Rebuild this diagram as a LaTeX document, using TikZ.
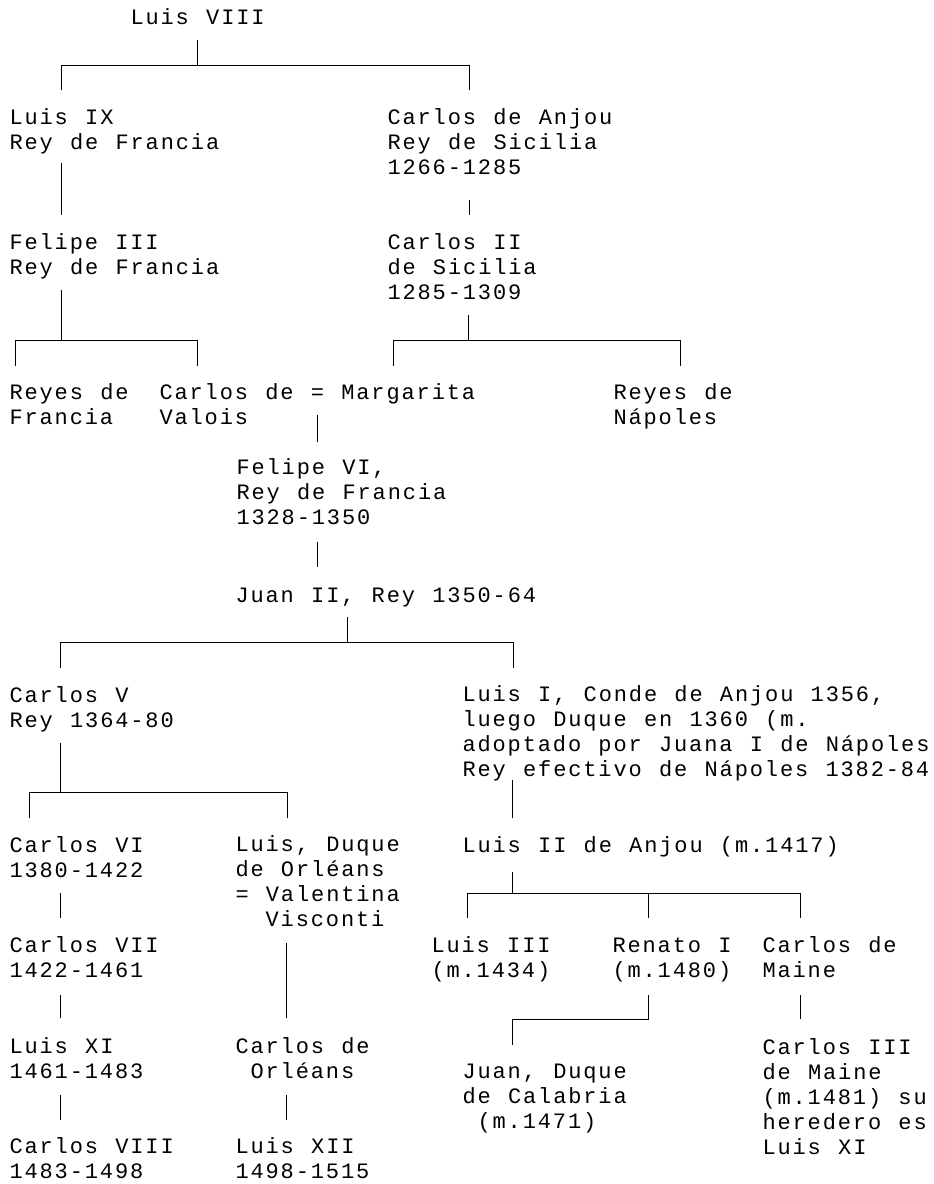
\documentclass[tikz,border=0pt]{standalone}
\usepackage{fontspec}
\newfontfamily\maquina[LetterSpace=8.55,WordSpace=1.1424]{Liberation Mono}
\lineskiplimit=-100pt
\begin{document}
\begin{tikzpicture}[x=1pt, y=-1pt, line width=1pt,
   persona/.style={anchor=base west, inner sep=0pt, align=left,
      font=\maquina\fontsize{22}{24.9}\selectfont}]
   \useasboundingbox (0,0) rectangle (934,1184);
   %nombres (base de la ultima linea)
   \node[persona] (luisviii) at (130,24) {Luis VIII};
   \node[persona] (luisix) at (9,149) {Luis IX\\Rey de Francia};
   \node[persona] (carlosanjou) at (387,174) {Carlos de Anjou\\Rey de Sicilia\\1266-1285};
   \node[persona] (felipeiii) at (9,274) {Felipe III\\Rey de Francia};
   \node[persona] (carlosii) at (387,299) {Carlos II\\de Sicilia\\1285-1309};
   \node[persona] (reyesfrancia) at (9,424) {Reyes de\\Francia};
   \node[persona] (carlosvalois) at (159,424) {Carlos de = Margarita\\Valois};
   \node[persona] (reyesnapoles) at (613,424) {Reyes de\\Nápoles};
   \node[persona] (felipevi) at (236,524) {Felipe VI,\\Rey de Francia\\1328-1350};
   \node[persona] (juanii) at (235,602) {Juan II, Rey 1350-64};
   \node[persona] (carlosv) at (9,727) {Carlos V\\Rey 1364-80};
   \node[persona] (luisi) at (462,776) {Luis I, Conde de Anjou 1356,\\luego Duque en 1360 (m.\\adoptado por Juana I de Nápoles\\Rey efectivo de Nápoles 1382-84};
   \node[persona] (carlosvi) at (9,877) {Carlos VI\\1380-1422};
   \node[persona] (luisorleans) at (235,926) {Luis, Duque\\de Orléans\\= Valentina\\\hspace*{30.16pt}Visconti};
   \node[persona] (luisii) at (462,852) {Luis II de Anjou (m.1417)};
   \node[persona] (carlosvii) at (9,977) {Carlos VII\\1422-1461};
   \node[persona] (luisiii) at (431,977) {Luis III\\(m.1434)};
   \node[persona] (renato) at (612,977) {Renato I\\(m.1480)};
   \node[persona] (carlosmaine) at (762,977) {Carlos de\\Maine};
   \node[persona] (luisxi) at (9,1078) {Luis XI\\1461-1483};
   \node[persona] (carlosorleans) at (235,1078) {Carlos de\\\hspace*{15.08pt}Orléans};
   \node[persona] (juancalabria) at (462,1128) {Juan, Duque\\de Calabria\\\hspace*{15.08pt}(m.1471)};
   \node[persona] (carlosiii) at (762,1154) {Carlos III\\de Maine\\(m.1481) su\\heredero es\\Luis XI};
   \node[persona] (carlosviii) at (9,1178) {Carlos VIII\\1483-1498};
   \node[persona] (luisxii) at (235,1178) {Luis XII\\1498-1515};
   %puntos de las lineas
   \coordinate (viii) at (197,40);  \coordinate (viiiI) at (61,65);  \coordinate (viiiD) at (469,65);
   \coordinate (ix1) at (61,163);   \coordinate (ix2) at (61,215);
   \coordinate (anj1) at (469,200); \coordinate (anj2) at (469,215);
   \coordinate (iii) at (61,290);   \coordinate (iiiI) at (15,340);   \coordinate (iiiD) at (197,340);
   \coordinate (cii) at (468,315);  \coordinate (ciiI) at (393,340);  \coordinate (ciiD) at (680,340);
   \coordinate (val1) at (317,415); \coordinate (val2) at (317,442);
   \coordinate (vi1) at (317,542);  \coordinate (vi2) at (317,567);
   \coordinate (jii) at (347,617);  \coordinate (jiiI) at (60,642);   \coordinate (jiiD) at (513,642);
   \coordinate (cv) at (60,743);    \coordinate (cvI) at (29,792);    \coordinate (cvD) at (287,792);
   \coordinate (li1) at (512,780);  \coordinate (li2) at (512,818);
   \coordinate (cvi1) at (60,893);  \coordinate (cvi2) at (60,918);
   \coordinate (orl1) at (286,943); \coordinate (orl2) at (286,1018);
   \coordinate (lii) at (512,872);  \coordinate (liiI) at (467,893);  \coordinate (liiC) at (648,893);  \coordinate (liiD) at (800,893);
   \coordinate (cvii1) at (60,995); \coordinate (cvii2) at (60,1018);
   \coordinate (ren1) at (648,995); \coordinate (ren2) at (648,1019); \coordinate (ren3) at (512,1019);
   \coordinate (mai1) at (800,995); \coordinate (mai2) at (800,1019);
   \coordinate (xi1) at (60,1095);  \coordinate (xi2) at (60,1120);
   \coordinate (co1) at (286,1095); \coordinate (co2) at (286,1120);
   %lineas
   \draw (viii) -- (viii |- viiiI);
   \draw ([yshift=-25pt]viiiI) -- (viiiI) -- (viiiD) -- ([yshift=-25pt]viiiD);
   \draw (ix1) -- (ix2);
   \draw (anj1) -- (anj2);
   \draw (iii) -- (iii |- iiiI);
   \draw ([yshift=-26pt]iiiI) -- (iiiI) -- (iiiD) -- ([yshift=-26pt]iiiD);
   \draw (cii) -- (cii |- ciiI);
   \draw ([yshift=-26pt]ciiI) -- (ciiI) -- (ciiD) -- ([yshift=-26pt]ciiD);
   \draw (val1) -- (val2);
   \draw (vi1) -- (vi2);
   \draw (jii) -- (jii |- jiiI);
   \draw ([yshift=-26pt]jiiI) -- (jiiI) -- (jiiD) -- ([yshift=-26pt]jiiD);
   \draw (cv) -- (cv |- cvI);
   \draw ([yshift=-26pt]cvI) -- (cvI) -- (cvD) -- ([yshift=-26pt]cvD);
   \draw (li1) -- (li2);
   \draw (cvi1) -- (cvi2);
   \draw (orl1) -- (orl2);
   \draw (lii) -- (lii |- liiI);
   \draw ([yshift=-25pt]liiI) -- (liiI) -- (liiD) -- ([yshift=-25pt]liiD);
   \draw (liiC) -- ([yshift=-25pt]liiC);
   \draw (cvii1) -- (cvii2);
   \draw (ren1) -- (ren2) -- (ren3) -- ([yshift=-26pt]ren3);
   \draw (mai1) -- (mai2);
   \draw (xi1) -- (xi2);
   \draw (co1) -- (co2);
\end{tikzpicture}
\end{document}
